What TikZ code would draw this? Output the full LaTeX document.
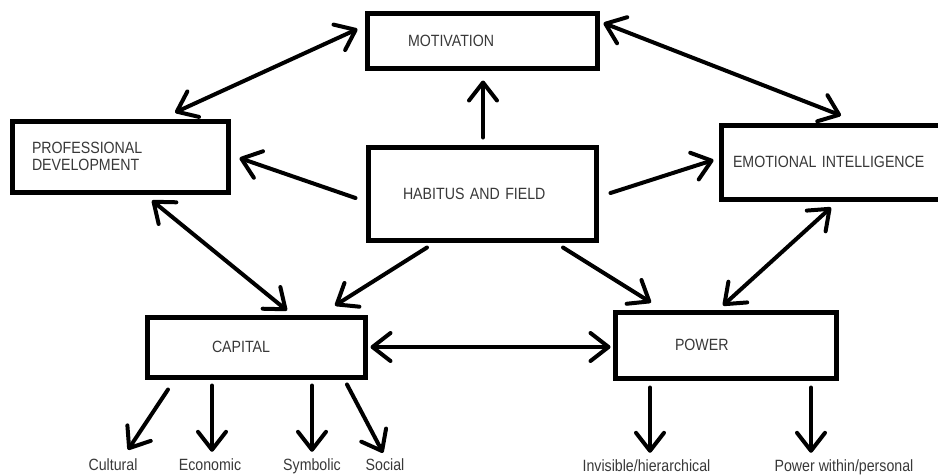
\documentclass[tikz,border=0pt]{standalone}
\usepackage{fontspec}
\newfontfamily\lblfont[FakeStretch=0.87]{Liberation Sans}
\usetikzlibrary{arrows.meta}
\begin{document}
\begin{tikzpicture}[x=1pt,y=-1pt,
  txt/.style={font={\lblfont\fontsize{16.3}{17}\selectfont}, text=black!78},
  box/.style={txt, draw=black, line width=5pt, rectangle, inner sep=0pt, align=left},
  tipb/.tip={Straight Barb[length=18pt,width=28pt,round]},
  arr/.style={line width=4pt, line cap=round, -tipb},
  darr/.style={line width=4pt, line cap=round, tipb-tipb},
  lbl/.style={txt, inner sep=0pt, text height=12pt, text depth=3pt, anchor=base}]
\useasboundingbox (0,0) rectangle (938,475);
% boxes
\node[box, minimum width=230pt, minimum height=55pt, text width=148pt] (MOT) at (482,40.5) {MOTIVATION};
\node[box, minimum width=216pt, minimum height=71pt, text width=176pt] (PD) at (120,156.5) {PROFESSIONAL\\DEVELOPMENT};
\node[box, minimum width=228pt, minimum height=93pt, text width=158pt] (HAB) at (482,193.5) {HABITUS AND FIELD};
\node[box, minimum width=250pt, minimum height=74pt, text width=226pt] (EI) at (846,162) {EMOTIONAL INTELLIGENCE};
\node[box, minimum width=218pt, minimum height=60pt, text width=88pt] (CAP) at (256,347) {CAPITAL};
\node[box, minimum width=221pt, minimum height=66pt, text width=101pt] (POW) at (725.5,345) {POWER};
% labels
\node[lbl] (cult) at (113,470) {Cultural};
\node[lbl] (econ) at (210,470) {Economic};
\node[lbl] (symb) at (312,470) {Symbolic};
\node[lbl] (soc)  at (385,470) {Social};
\node[lbl] (inv)  at (646.5,471) {Invisible/hierarchical};
\node[lbl] (pw)   at (844,471) {Power within/personal};
% connectors
\draw[darr] ([xshift=-7pt,yshift=11.5pt]MOT.west) -- ([xshift=55pt,yshift=6pt]PD.north);
\draw[darr] ([xshift=4pt,yshift=17.5pt]MOT.east) -- ([xshift=-5pt,yshift=7pt]EI.north);
\draw[arr] ([xshift=1pt,yshift=7pt]HAB.north) -- ([xshift=1pt,yshift=-10pt]MOT.south);
\draw[arr] ([xshift=-10pt,yshift=-4.5pt]HAB.west) -- ([xshift=9pt,yshift=-1.5pt]PD.east);
\draw[arr] ([xshift=12pt,yshift=0.5pt]HAB.east) -- ([xshift=-5pt,yshift=2pt]EI.west);
\draw[darr] ([xshift=32pt,yshift=-6pt]PD.south) -- ([xshift=31pt,yshift=4pt]CAP.north);
\draw[arr] ([xshift=-55pt,yshift=-5pt]HAB.south) -- ([xshift=79pt,yshift=9pt]CAP.north);
\draw[arr] ([xshift=81pt,yshift=-5pt]HAB.south) -- ([xshift=-74.5pt,yshift=7pt]POW.north);
\draw[darr] ([xshift=-15pt,yshift=-6pt]EI.south) -- ([xshift=-2.5pt,yshift=4pt]POW.north);
\draw[darr] ([xshift=3pt]CAP.east) -- ([xshift=-2pt,yshift=-2pt]POW.west);
\draw[arr] ([xshift=-88pt,yshift=-10pt]CAP.south) -- ([xshift=15pt,yshift=8pt]cult.north);
\draw[arr] ([xshift=-44pt,yshift=-6pt]CAP.south) -- ([xshift=2pt,yshift=6pt]econ.north);
\draw[arr] ([xshift=56pt,yshift=-6pt]CAP.south) -- ([yshift=6pt]symb.north);
\draw[arr] ([xshift=91pt,yshift=-5pt]CAP.south) -- ([xshift=-2pt,yshift=5pt]soc.north);
\draw[arr] ([xshift=-75.5pt,yshift=-7pt]POW.south) -- ([xshift=3.5pt,yshift=6pt]inv.north);
\draw[arr] ([xshift=85.5pt,yshift=-7pt]POW.south) -- ([xshift=-33pt,yshift=6pt]pw.north);
\end{tikzpicture}
\end{document}
